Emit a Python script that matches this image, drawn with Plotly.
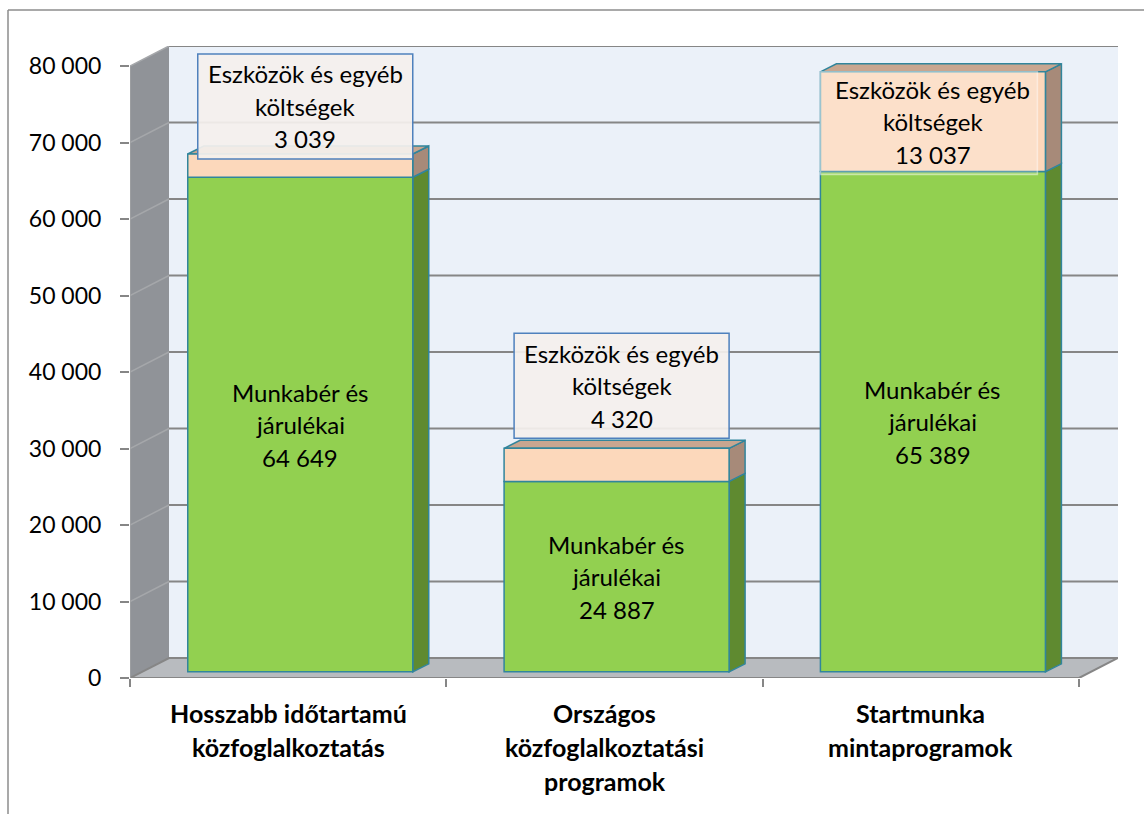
import plotly.graph_objects as go

# ---------------- data ----------------
categories = [
    "Hosszabb időtartamú közfoglalkoztatás",
    "Országos közfoglalkoztatási programok",
    "Startmunka mintaprogramok",
]
category_lines = [
    ["Hosszabb időtartamú", "közfoglalkoztatás"],
    ["Országos", "közfoglalkoztatási", "programok"],
    ["Startmunka", "mintaprogramok"],
]
wages = [64649, 24887, 65389]          # Munkabér és járulékai
other_costs = [3039, 4320, 13037]      # Eszközök és egyéb költségek
wage_label = ["Munkabér és", "járulékai"]
other_label = ["Eszközök és egyéb", "költségek"]
y_ticks = [0, 10000, 20000, 30000, 40000, 50000, 60000, 70000, 80000]


def fmt(v):
    return f"{v:,}".replace(",", " ")


# ---------------- geometry (pixels) ----------------
W, H = 1144, 814
FRONT_L, FRONT_R = 130, 1079
FRONT_B, FRONT_T = 678, 66
DEPTH_X, DEPTH_Y = 39, 20
PL, PR = FRONT_L, FRONT_R + DEPTH_X
PB, PT = FRONT_B, FRONT_T - DEPTH_Y
N = len(categories)
CATPX = (FRONT_R - FRONT_L) / N
YMAX = y_ticks[-1]
YPX = (FRONT_B - FRONT_T) / YMAX
XR = [-0.5, -0.5 + (PR - PL) / CATPX]
YR = [0, (PB - PT) / YPX]


def ux(px):
    return px / CATPX


def uy(px):
    return px / YPX


def paper_x(px):
    return (px - PL) / (PR - PL)


def paper_y(py):
    return (PB - py) / (PB - PT)


DXU, DYU = ux(DEPTH_X), uy(DEPTH_Y)
BW = ux(225)
FX, FY = ux(DEPTH_X * 0.31), uy(DEPTH_Y * 0.31)
SDX, SDY = ux(16), uy(8)

FONT = "Lato"
GREEN, GREEN_SIDE = "#92d050", "#5f8a30"
PEACH, PEACH_SIDE, PEACH_TOP = "#fcd8bb", "#a78a79", "#c8a690"
EDGE = "#31859c"
GRID = "#868686"

shapes = []

# back wall
shapes.append(dict(type="rect", xref="x", yref="y", layer="below",
                   x0=-0.5 + DXU, x1=N - 0.5 + DXU, y0=DYU, y1=YMAX + DYU,
                   fillcolor="#ebf1f9", line=dict(width=0)))
# left wall
shapes.append(dict(type="path", xref="x", yref="y", layer="below",
                   path=f"M {-0.5},{0} L {-0.5 + DXU},{DYU} L {-0.5 + DXU},{YMAX + DYU} L {-0.5},{YMAX} Z",
                   fillcolor="#909398", line=dict(width=0)))
# floor
shapes.append(dict(type="path", xref="x", yref="y", layer="below",
                   path=f"M {-0.5},{0} L {N - 0.5},{0} L {N - 0.5 + DXU},{DYU} L {-0.5 + DXU},{DYU} Z",
                   fillcolor="#b8bbbf", line=dict(color=GRID, width=2)))
# gridlines
for v in y_ticks[1:]:
    shapes.append(dict(type="line", xref="x", yref="y", layer="below",
                       x0=-0.5 + DXU, x1=N - 0.5 + DXU, y0=v + DYU, y1=v + DYU,
                       line=dict(color=GRID, width=2)))
    shapes.append(dict(type="line", xref="x", yref="y", layer="below",
                       x0=-0.5, x1=-0.5 + DXU, y0=v, y1=v + DYU,
                       line=dict(color="#a5a7aa", width=1.5)))
# left axis edge
shapes.append(dict(type="line", xref="x", yref="y", layer="below",
                   x0=-0.5, x1=-0.5, y0=0, y1=YMAX, line=dict(color="#a0a2a5", width=1.5)))

# bar side and top faces
for i in range(N):
    xr = i + BW / 2 + FX
    xl = i - BW / 2 + FX
    segs = [(0, wages[i], GREEN_SIDE), (wages[i], wages[i] + other_costs[i], PEACH_SIDE)]
    for y0, y1, col in segs:
        shapes.append(dict(type="path", xref="x", yref="y", layer="below",
                           path=f"M {xr},{FY + y0} L {xr + SDX},{FY + y0 + SDY} L {xr + SDX},{FY + y1 + SDY} L {xr},{FY + y1} Z",
                           fillcolor=col, line=dict(color=EDGE, width=1.5)))
    top = FY + wages[i] + other_costs[i]
    shapes.append(dict(type="path", xref="x", yref="y", layer="below",
                       path=f"M {xl},{top} L {xl + SDX},{top + SDY} L {xr + SDX},{top + SDY} L {xr},{top} Z",
                       fillcolor=PEACH_TOP, line=dict(color=EDGE, width=1.5)))

annotations = []
LINE_STEP = 32.5
TXT = dict(family=FONT, size=24, color="#000000")


def three_lines(x, y, lines):
    for k, t in enumerate(lines):
        annotations.append(dict(x=x, y=y, xref="x", yref="y", text=t, showarrow=False,
                                xanchor="center", yanchor="middle",
                                yshift=LINE_STEP * (1 - k), font=TXT))


# labels
BOX_LIFT_PX = [-5, 10, None]   # None: label inside the segment
BOX_W_PX, BOX_H_PX = 215, 105
for i in range(N):
    xc = i + FX
    xr = i + BW / 2 + FX
    three_lines(xc, FY + wages[i] / 2, wage_label + [fmt(wages[i])])
    total = wages[i] + other_costs[i]
    lift = BOX_LIFT_PX[i]
    if lift is None:
        y0 = FY + wages[i] - uy(3)
        y1 = FY + total
        x0 = i - BW / 2 + FX
        x1 = x0 + ux(217)
        shapes.append(dict(type="rect", xref="x", yref="y", layer="above",
                           x0=x0, x1=x1, y0=y0, y1=y1,
                           fillcolor="rgba(255,255,255,0.22)",
                           line=dict(color="rgba(255,255,255,0.45)", width=1.5)))
        three_lines(xc, FY + wages[i] + other_costs[i] / 2, other_label + [fmt(other_costs[i])])
    else:
        y0 = FY + total + uy(lift)
        y1 = y0 + uy(BOX_H_PX)
        x1 = xr
        x0 = x1 - ux(BOX_W_PX)
        shapes.append(dict(type="rect", xref="x", yref="y", layer="above",
                           x0=x0, x1=x1, y0=y0, y1=y1,
                           fillcolor="rgba(244,240,237,0.93)",
                           line=dict(color="#4f81bd", width=1.5)))
        three_lines((x0 + x1) / 2, (y0 + y1) / 2, other_label + [fmt(other_costs[i])])

# category labels
CAT_FIRST_PX, CAT_STEP_PX = 713, 34
for i, lines in enumerate(category_lines):
    for k, t in enumerate(lines):
        annotations.append(dict(x=i, y=paper_y(CAT_FIRST_PX + k * CAT_STEP_PX), xref="x", yref="paper",
                                text=f"<b>{t}</b>", showarrow=False, xanchor="center", yanchor="middle",
                                font=dict(family=FONT, size=25, color="#000000")))

# outer frame
shapes.append(dict(type="line", xref="paper", yref="paper",
                   x0=paper_x(8), x1=paper_x(8), y0=paper_y(10), y1=paper_y(H + 10),
                   line=dict(color="#8c8c8c", width=1.5)))
shapes.append(dict(type="line", xref="paper", yref="paper",
                   x0=paper_x(8), x1=paper_x(W + 10), y0=paper_y(10), y1=paper_y(10),
                   line=dict(color="#8c8c8c", width=1.5)))

fig = go.Figure()
fig.add_trace(go.Bar(x=list(range(N)), y=wages, base=[FY] * N, width=BW, offset=-BW / 2 + FX,
                     marker=dict(color=GREEN, line=dict(color=EDGE, width=1.5)),
                     name="Munkabér és járulékai", hoverinfo="skip"))
fig.add_trace(go.Bar(x=list(range(N)), y=other_costs, base=[FY + w for w in wages], width=BW,
                     offset=-BW / 2 + FX,
                     marker=dict(color=PEACH, line=dict(color=EDGE, width=1.5)),
                     name="Eszközök és egyéb költségek", hoverinfo="skip"))

fig.update_layout(
    width=W, height=H,
    margin=dict(l=PL, r=W - PR, t=PT, b=H - PB, pad=0),
    paper_bgcolor="white", plot_bgcolor="white",
    barmode="overlay", showlegend=False,
    shapes=shapes, annotations=annotations,
    xaxis=dict(range=XR, showgrid=False, zeroline=False, showline=False,
               tickmode="array", tickvals=[k - 0.5 for k in range(N + 1)],
               ticktext=[""] * (N + 1), ticks="outside", ticklen=8, tickwidth=1.5, tickcolor=GRID,
               fixedrange=True),
    yaxis=dict(range=YR, showgrid=False, zeroline=False, showline=False,
               tickmode="array", tickvals=y_ticks, ticktext=[fmt(v) for v in y_ticks],
               ticks="outside", ticklen=9, tickwidth=1.5, tickcolor=GRID,
               tickfont=dict(family=FONT, size=23, color="#000000"),
               ticklabelstandoff=14, fixedrange=True),
)

fig.write_html("out.html", config={"displayModeBar": False},
               post_script="document.body.style.margin='0';")
